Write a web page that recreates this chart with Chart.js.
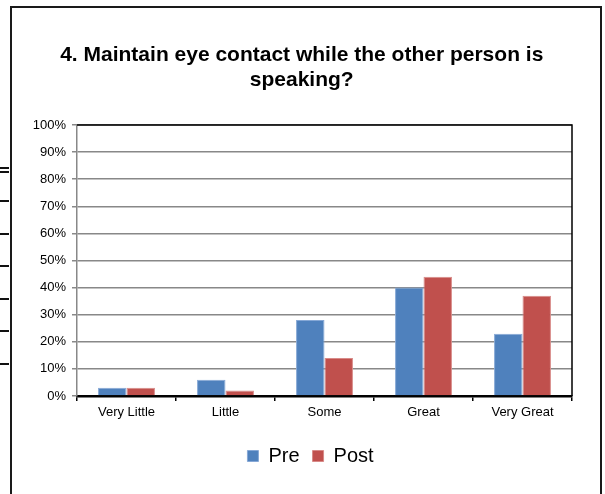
<!DOCTYPE html>
<html>
<head>
<meta charset="utf-8">
<script src="https://cdn.jsdelivr.net/npm/chart.js@4.4.1/dist/chart.umd.min.js"></script>
<style>
  html, body { margin: 0; padding: 0; background: #fff; }
  body { width: 605px; height: 494px; position: relative; overflow: hidden; }
  .frame {
    position: absolute; left: 10px; top: 6px; width: 592px; height: 600px;
    box-sizing: border-box; border: 2px solid #1a1a1a;
  }
  .edge { position: absolute; left: 0; width: 9px; height: 2px; background: #111; }
  #wrap { position: absolute; left: 0; top: 0; width: 605px; height: 494px; }
</style>
</head>
<body>
<div class="frame"></div>
<div class="edge" style="top:167px"></div>
<div class="edge" style="top:171px"></div>
<div class="edge" style="top:200px"></div>
<div class="edge" style="top:233px"></div>
<div class="edge" style="top:265px"></div>
<div class="edge" style="top:298px"></div>
<div class="edge" style="top:330px"></div>
<div class="edge" style="top:363px"></div>
<div id="wrap"><canvas id="surveyChart" width="605" height="494"></canvas></div>
<script>
const categories = ['Very Little', 'Little', 'Some', 'Great', 'Very Great'];
const preValues = [3, 6, 28, 40, 23];
const postValues = [3, 2, 14, 44, 37];
const yTicks = [0, 10, 20, 30, 40, 50, 60, 70, 80, 90, 100];

const FONT = "'Liberation Sans', Arial, sans-serif";

// black frame on the top and right of the plot area
const plotFrame = {
  id: 'plotFrame',
  afterDatasetsDraw(chart) {
    const { ctx, chartArea } = chart;
    ctx.save();
    ctx.strokeStyle = '#000';
    ctx.lineWidth = 1.5;
    ctx.beginPath();
    ctx.moveTo(chartArea.left, chartArea.top);
    ctx.lineTo(chartArea.right, chartArea.top);
    ctx.lineTo(chartArea.right, chartArea.bottom);
    ctx.stroke();
    ctx.restore();
  }
};

new Chart(document.getElementById('surveyChart'), {
  type: 'bar',
  data: {
    labels: categories,
    datasets: [
      {
        label: 'Pre',
        data: preValues,
        backgroundColor: '#4F81BD',
        borderColor: '#86a8d6',
        borderWidth: 1,
        borderSkipped: 'bottom'
      },
      {
        label: 'Post',
        data: postValues,
        backgroundColor: '#C0504D',
        borderColor: '#d88a88',
        borderWidth: 1,
        borderSkipped: 'bottom'
      }
    ]
  },
  options: {
    responsive: false,
    animation: false,
    layout: { padding: { left: 20, right: 4, top: 0, bottom: 18 } },
    datasets: { bar: { categoryPercentage: 0.575, barPercentage: 1 } },
    scales: {
      x: {
        afterFit(scale) { scale.height = 37; },
        grid: { drawOnChartArea: false, drawTicks: true, tickLength: 5, color: '#000', lineWidth: 1.5, offset: true },
        border: { color: '#000', width: 2.5 },
        ticks: { color: '#000', font: { family: FONT, size: 13 }, padding: 4 }
      },
      y: {
        min: 0,
        max: 100,
        afterFit(scale) { scale.width = 57; },
        afterBuildTicks(scale) { scale.ticks = yTicks.map(v => ({ value: v })); },
        grid: { color: '#888', lineWidth: 1.5, tickLength: 5 },
        border: { color: '#888', width: 1.5 },
        ticks: {
          color: '#000',
          font: { family: FONT, size: 13 },
          padding: 6,
          callback: v => v + '%'
        }
      },
      // empty spacer on the right so the plot ends short of the frame
      spacer: {
        type: 'linear',
        position: 'right',
        afterFit(scale) { scale.width = 29; },
        grid: { display: false },
        border: { display: false },
        ticks: { display: false }
      }
    },
    plugins: {
      title: {
        display: true,
        text: ['4. Maintain eye contact while the other person is   ', 'speaking?   '],
        color: '#000',
        font: { family: FONT, size: 21, weight: 'bold', lineHeight: 1.19 },
        padding: { top: 43, bottom: 32 }
      },
      legend: {
        position: 'bottom',
        labels: {
          boxWidth: 11,
          boxHeight: 11,
          padding: 13,
          color: '#000',
          font: { family: FONT, size: 20 }
        }
      },
      tooltip: { enabled: false }
    }
  },
  plugins: [plotFrame]
});
</script>
</body>
</html>
